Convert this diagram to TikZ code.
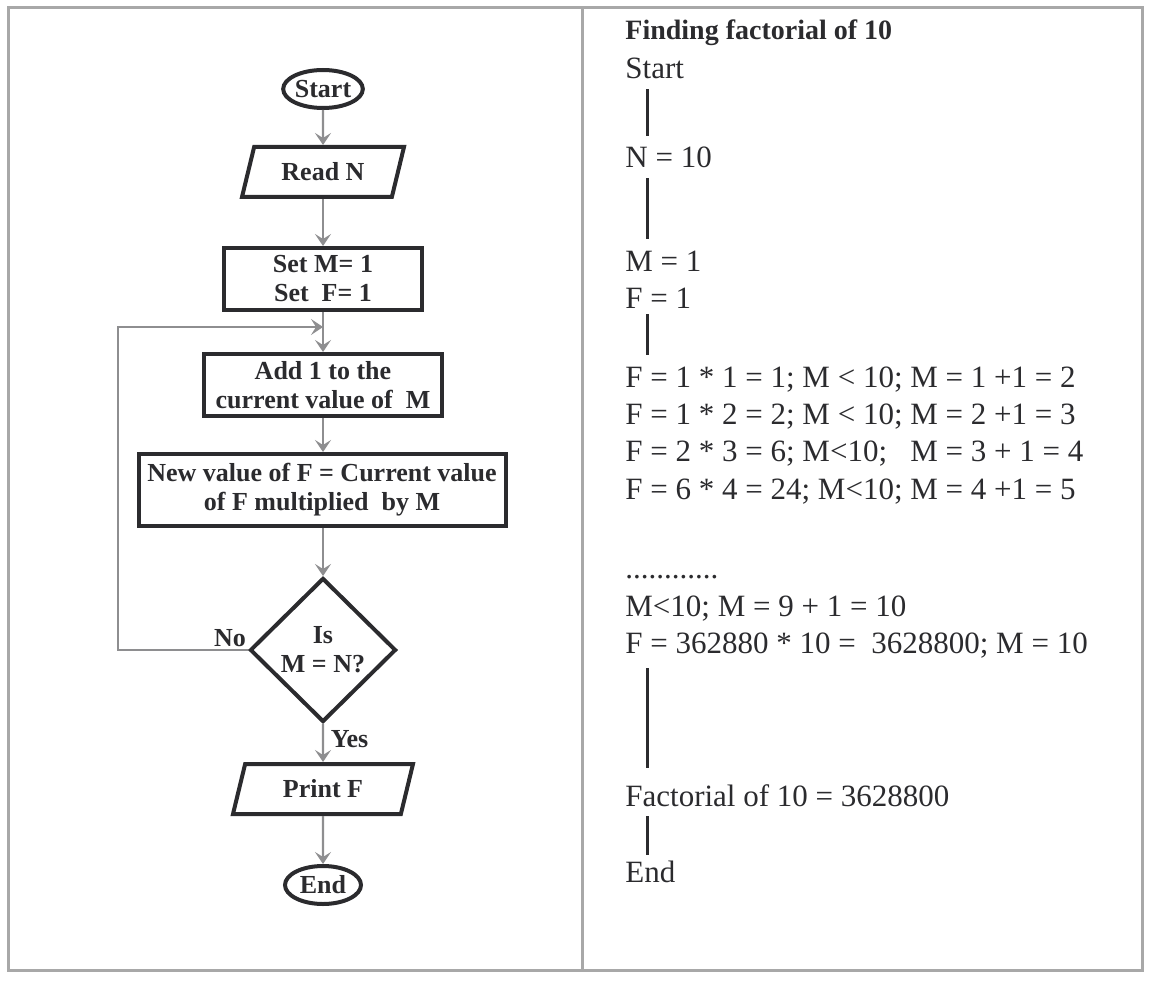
\documentclass[tikz,border=0pt]{standalone}
\usepackage{fontspec}
\setmainfont{Liberation Serif}
\usepackage{tikz}
\usetikzlibrary{shapes}
\usetikzlibrary{arrows.meta}
\definecolor{ink}{HTML}{2B2B2E}
\definecolor{wire}{HTML}{8E8E90}
\definecolor{framegray}{HTML}{A8A8A8}

\begin{document}
\begin{tikzpicture}[x=0.5pt,y=-0.5pt,
        every node/.style={text=ink},
        block/.style={draw=ink,line width=2pt,font=\fontsize{13}{14.5}\selectfont\bfseries,align=center},
        term/.style={block,ellipse,minimum width=37pt,minimum height=19pt,inner sep=0pt},
        io/.style={block,trapezium,trapezium left angle=69,trapezium right angle=111,trapezium stretches body=true,minimum height=25pt},
        proc/.style={block,rectangle,minimum height=31pt},
        decision/.style={block,diamond,minimum width=73pt,minimum height=72pt,inner sep=0pt},
        flow/.style={draw=wire,line width=1.1pt,-{Stealth[length=6pt,width=8pt,inset=2.5pt]}},
        tag/.style={font=\fontsize{13}{14.5}\selectfont\bfseries},
        rline/.style={anchor=base west,inner sep=0pt,text height=11pt,text depth=3pt,font=\fontsize{15.5}{18}\selectfont},
        vbar/.style={draw=ink,line width=1.5pt,shorten <=2pt,shorten >=5pt}]
        \useasboundingbox (0,0) rectangle (1156,984);
        \draw[framegray,line width=1.5pt] (8,8) rectangle (1142,970);
        \draw[framegray,line width=1.5pt] (582,8) -- (582,970);

        \node[term] (start) at (323,89) {Start};
        \node[io,minimum width=81pt] (read) at (323,172) {Read N};
        \node[proc,minimum width=99pt] (set) at (323,279) {Set M= 1\\Set~~F= 1};
        \node[proc,minimum width=119pt] (add) at (323,385) {Add 1 to the\\current value of~ M};
        \node[proc,minimum width=183.5pt,minimum height=36pt] (newf) at (322,490) {New value of F = Current value\\of F multiplied~ by M};
        \node[decision] (ismn) at (323,650) {Is\\M = N?};
        \node[io,minimum width=90pt] (print) at (323,789) {Print F};
        \node[term,minimum width=38pt] (stop) at (323,885) {End};
        \node[tag] (no) at (230,638) {No};
        \coordinate (join) at (323,327);
        \coordinate (back) at (118,327);

        \draw[flow] (start) -- (read);
        \draw[flow] (read) -- (set);
        \draw[flow] (set) -- (add);
        \draw[flow] (add) -- (add |- newf.north);
        \draw[flow] (ismn |- newf.south) -- (ismn);
        \draw[flow] (ismn.west) -| (back) -- (join);
        \draw[flow] (ismn) -- node[tag,right,pos=0.4] (yes) {Yes} (print);
        \draw[flow] (print) -- (stop);

        \node[rline,font=\fontsize{14}{17}\selectfont\bfseries] (title) at (625,40) {Finding factorial of 10};
        \node[rline] (rstart) at (625,79) {Start};
        \node[rline] (rn) at (625,168) {N = 10};
        \node[rline] (rm) at (625,271) {M = 1};
        \node[rline] (rf) at (625,308) {F = 1};
        \node[rline] (it1) at (625,387) {F = 1 * 1 = 1; M < 10; M = 1 +1 = 2};
        \node[rline] (it2) at (625,424) {F = 1 * 2 = 2; M < 10; M = 2 +1 = 3};
        \node[rline] (it3) at (625,461) {F = 2 * 3 = 6; M<10;\ \ \ M = 3 + 1 = 4};
        \node[rline] (it4) at (625,499) {F = 6 * 4 = 24; M<10; M = 4 +1 = 5};
        \node[rline] (dots) at (625,578) {............};
        \node[rline] (it9) at (625,616) {M<10; M = 9 + 1 = 10};
        \node[rline] (it10) at (625,653) {F = 362880 * 10 =~ 3628800; M = 10};
        \node[rline] (result) at (625,806) {Factorial of 10 = 3628800};
        \node[rline] (rend) at (625,882) {End};

        \draw[vbar] ([xshift=11pt]rstart.south west) -- ([xshift=11pt]rn.north west);
        \draw[vbar] ([xshift=11pt]rn.south west) -- ([xshift=11pt]rm.north west);
        \draw[vbar,shorten <=0pt] ([xshift=11pt]rf.south west) -- ([xshift=11pt]it1.north west);
        \draw[vbar,shorten <=4.5pt,shorten >=8pt] ([xshift=11pt]it10.south west) -- ([xshift=11pt]result.north west);
        \draw[vbar,shorten >=2.5pt] ([xshift=11pt]result.south west) -- ([xshift=11pt]rend.north west);
\end{tikzpicture}
\end{document}
